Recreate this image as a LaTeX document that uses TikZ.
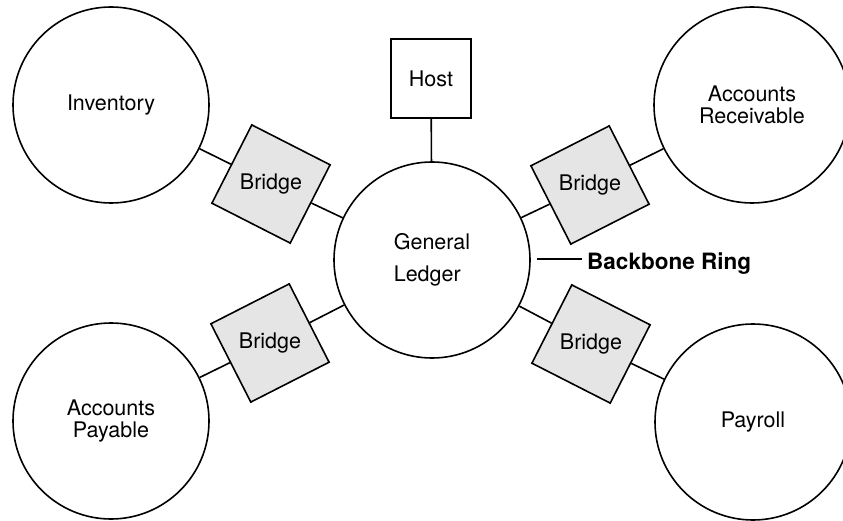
\documentclass[tikz,border=0pt]{standalone}
\usepackage{fontspec}
\setmainfont{TeX Gyre Heros}
\usetikzlibrary{shapes.geometric}

\tikzset{
  net/.style={draw, circle, line width=1.6pt, minimum size=196pt, inner sep=0pt, align=center},
  bridgebox/.style={draw, regular polygon, regular polygon sides=4, line width=1.6pt,
                    fill=black!10, minimum size=109pt, inner sep=0pt},
  hostbox/.style={draw, rectangle, line width=1.6pt, minimum width=80pt, minimum height=79pt, inner sep=0pt},
  link/.style={line width=1.6pt}
}

\begin{document}
\begin{tikzpicture}[x=1pt, y=-1pt, font=\fontsize{21.5}{22.5}\selectfont]
  \useasboundingbox (0,0) rectangle (843,521);

  % backbone ring and the departmental rings
  \node[net, align=left] (gl) at (432,260) {General\\[9.5pt]Ledger};
  \node[net] (inv) at (111,105) {Inventory};
  \node[net] (ar)  at (752,105) {Accounts\\Receivable};
  \node[net] (ap)  at (111,421) {Accounts\\Payable};
  \node[net] (pay) at (753,422) {Payroll};

  % host attached to the backbone
  \node[hostbox] (host) at (431,78.5) {Host};

  % bridges between rings
  \node[bridgebox, shape border rotate=-27] (b1) at (271,184) {Bridge};
  \node[bridgebox, shape border rotate=27]  (b2) at (590,185) {Bridge};
  \node[bridgebox, shape border rotate=27]  (b3) at (270,343) {Bridge};
  \node[bridgebox, shape border rotate=-27] (b4) at (591,344) {Bridge};

  \draw[link] (host) -- (gl);
  \draw[link] (inv) -- (b1);
  \draw[link] (b1) -- (gl);
  \draw[link] (gl) -- (b2);
  \draw[link] (b2) -- (ar);
  \draw[link] (ap) -- (b3);
  \draw[link] (b3) -- (gl);
  \draw[link] (gl) -- (b4);
  \draw[link] (b4) -- (pay);

  % callout for the backbone ring
  \coordinate (bbtip) at (537,259);
  \node[anchor=base west, inner sep=0pt, font=\fontsize{22.5}{24}\selectfont\bfseries] (bb) at (587,270) {Backbone Ring};
  \draw[line width=1.2pt] (bbtip) -- ([xshift=-5pt]bb.west |- bbtip);
\end{tikzpicture}
\end{document}
